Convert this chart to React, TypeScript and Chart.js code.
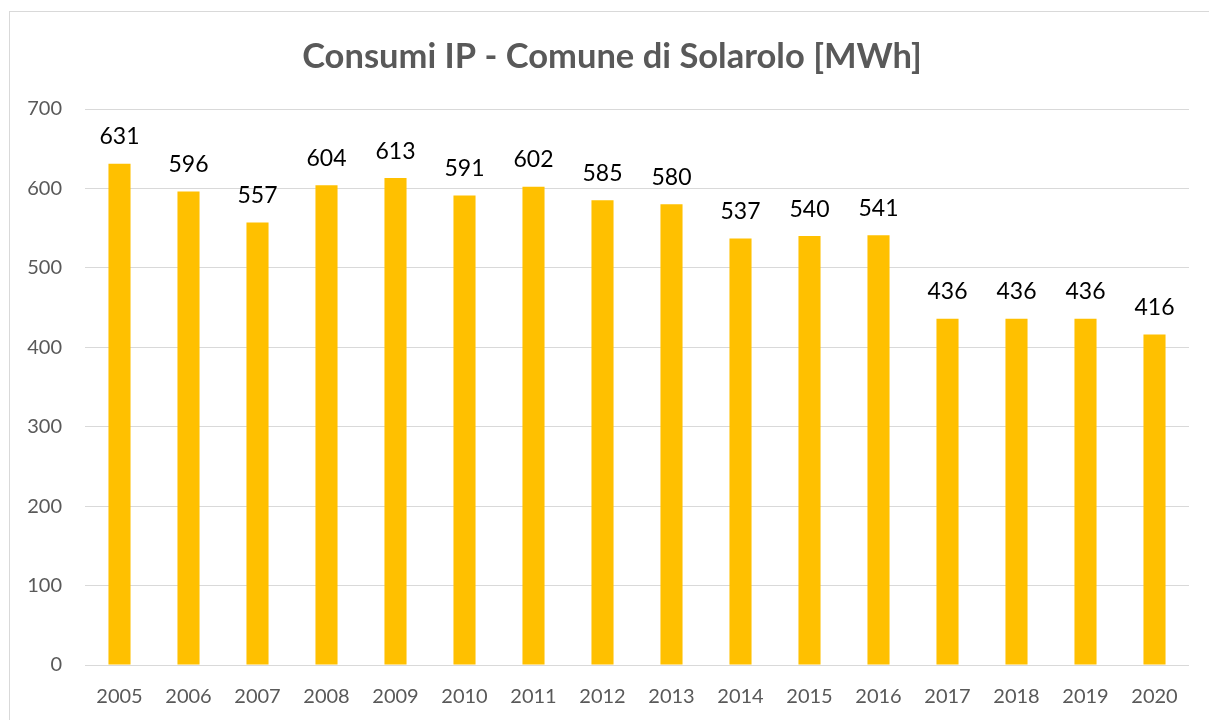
import React, { useEffect, useRef } from "react";
import { Chart, registerables } from "chart.js";

Chart.register(...registerables);

const years = ["2005","2006","2007","2008","2009","2010","2011","2012","2013","2014","2015","2016","2017","2018","2019","2020"];
const consumi = [631, 596, 557, 604, 613, 591, 602, 585, 580, 537, 540, 541, 436, 436, 436, 416];
const titleText = "Consumi IP - Comune di Solarolo [MWh]";
const FONT = "Lato, 'Open Sans', sans-serif";

const decor = {
  id: "decor",
  beforeDraw(chart: any) {
    const ctx = chart.ctx;
    ctx.save();
    ctx.fillStyle = "#ffffff";
    ctx.fillRect(0, 0, chart.width, chart.height);
    ctx.strokeStyle = "#d9d9d9";
    ctx.lineWidth = 1;
    ctx.strokeRect(9.5, 11.5, 1400, 900);
    ctx.fillStyle = "#595959";
    ctx.font = "bold 34.5px " + FONT;
    ctx.textAlign = "center";
    ctx.textBaseline = "middle";
    ctx.fillText(titleText, 612, 57);
    ctx.restore();
  },
  afterDatasetsDraw(chart: any) {
    const ctx = chart.ctx;
    const meta = chart.getDatasetMeta(0);
    ctx.save();
    ctx.fillStyle = "#000000";
    ctx.font = "23px " + FONT;
    ctx.textAlign = "center";
    ctx.textBaseline = "middle";
    meta.data.forEach((bar: any, i: number) => {
      ctx.fillText(String(consumi[i]), bar.x, bar.y - 27);
    });
    ctx.restore();
  },
};

export default function App() {
  const ref = useRef<HTMLCanvasElement>(null);
  useEffect(() => {
    if (!ref.current) return;
    const chart = new Chart(ref.current, {
      type: "bar",
      data: {
        labels: years,
        datasets: [
          {
            data: consumi,
            backgroundColor: "#FFC000",
            categoryPercentage: 1,
            barPercentage: 0.32,
          },
        ],
      },
      options: {
        animation: false,
        responsive: false,
        layout: { padding: { left: 0, right: 20, top: 109, bottom: 0 } },
        plugins: { legend: { display: false }, tooltip: { enabled: false }, title: { display: false } },
        scales: {
          x: {
            grid: { display: false },
            border: { display: false },
            ticks: { color: "#595959", font: { family: FONT, size: 20 }, padding: 12, maxRotation: 0 },
            afterFit: (s: any) => { s.height = 55; },
          },
          y: {
            min: 0,
            max: 700,
            ticks: { stepSize: 100, color: "#595959", font: { family: FONT, size: 20 }, padding: 23 },
            grid: { color: "#d9d9d9", lineWidth: 1, drawTicks: false },
            border: { display: false },
            afterFit: (s: any) => { s.width = 85; },
          },
        },
      },
      plugins: [decor],
    });
    return () => chart.destroy();
  }, []);
  return (
    <div style={{ position: "fixed", left: 0, top: 0, width: 1209, height: 720, background: "#fff" }}>
      <canvas ref={ref} width={1209} height={720} style={{ width: 1209, height: 720, display: "block" }} />
    </div>
  );
}
